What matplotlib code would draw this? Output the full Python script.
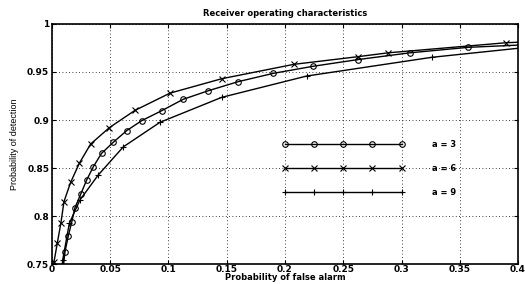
import numpy as np
import matplotlib
matplotlib.use("Agg")
import matplotlib.pyplot as plt

# curve readings (Pfa, Pd)
pfa3 = [0.0095, 0.0112, 0.014, 0.0169, 0.0197, 0.0246, 0.0298, 0.0355, 0.0426, 0.0526, 0.0641,
        0.0770, 0.0942, 0.1127, 0.1342, 0.16, 0.19, 0.2243, 0.263, 0.3073, 0.3574, 0.4]
pd3 = [0.745, 0.7628, 0.7792, 0.7934, 0.8086, 0.8226, 0.8375, 0.8514, 0.8653, 0.8768, 0.8889,
       0.8993, 0.9097, 0.9216, 0.9305, 0.94, 0.9486, 0.956, 0.963, 0.970, 0.9757, 0.978]

pfa6 = [0.0012, 0.0017, 0.0046, 0.0077, 0.0103, 0.016, 0.0235, 0.0332, 0.0492, 0.0712, 0.1013,
        0.1457, 0.2077, 0.2629, 0.2887, 0.390, 0.4]
pd6 = [0.745, 0.752, 0.772, 0.793, 0.815, 0.835, 0.855, 0.875, 0.892, 0.910, 0.928,
       0.943, 0.958, 0.966, 0.970, 0.9805, 0.981]

pfa9 = [0.0085, 0.0092, 0.0149, 0.024, 0.0397, 0.0612, 0.0927, 0.1457, 0.2186, 0.326, 0.4]
pd9 = [0.745, 0.7542, 0.7924, 0.8167, 0.8427, 0.872, 0.8976, 0.9236, 0.9458, 0.9653, 0.9747]

# legend drawn inside the axes
leg_x = [0.2, 0.225, 0.25, 0.275, 0.3]
leg_y = [0.875, 0.85, 0.825]
leg_labels = ["a = 3", "a = 6", "a = 9"]
markers = ["o", "x", "+"]

plt.rcParams["font.family"] = ["DejaVu Sans"]
fig = plt.figure(figsize=(5.25, 2.84), dpi=100)
ax = fig.add_axes([0.099, 0.0704, 0.8877, 0.8451])

kw = dict(color="black", lw=1.0, markersize=4, mfc="none", mew=0.8)
ax.plot(pfa3, pd3, "-o", markevery=list(range(1, len(pfa3) - 1)), **kw)
ax.plot(pfa6, pd6, "-x", markevery=list(range(1, len(pfa6) - 1)), **kw)
ax.plot(pfa9, pd9, "-+", markevery=list(range(1, len(pfa9) - 1)), **kw)

for yy, lab, m in zip(leg_y, leg_labels, markers):
    ax.plot(leg_x, [yy] * len(leg_x), "-" + m, **kw)
    ax.text(0.326, yy, lab, fontsize=6, fontweight="bold", va="center", ha="left")

ax.set_xlim(0, 0.4)
ax.set_ylim(0.75, 1)
ax.set_xticks(np.arange(0, 0.401, 0.05))
ax.set_yticks(np.arange(0.75, 1.001, 0.05))
ax.set_xticklabels(["0", "0.05", "0.1", "0.15", "0.2", "0.25", "0.3", "0.35", "0.4"])
ax.set_yticklabels(["0.75", "0.8", "0.85", "0.9", "0.95", "1"])
ax.grid(True, color="black", linestyle=(0, (1, 3)), linewidth=0.6)
ax.tick_params(direction="in", length=3, labelsize=6.5, top=True, right=True, pad=2)
ax.tick_params(axis="x", pad=1)
for lab in ax.get_xticklabels() + ax.get_yticklabels():
    lab.set_fontweight("bold")
for s in ax.spines.values():
    s.set_linewidth(1.2)

ax.set_title("Receiver operating characteristics", fontsize=6, fontweight="bold", pad=6)
ax.set_xlabel("Probability of false alarm", fontsize=6, fontweight="bold", labelpad=-1)
ax.set_ylabel("Probability of detection", fontsize=6.5, labelpad=6,
              family=["Liberation Sans Narrow", "Liberation Sans"])

fig.savefig("out.png", dpi=100)
